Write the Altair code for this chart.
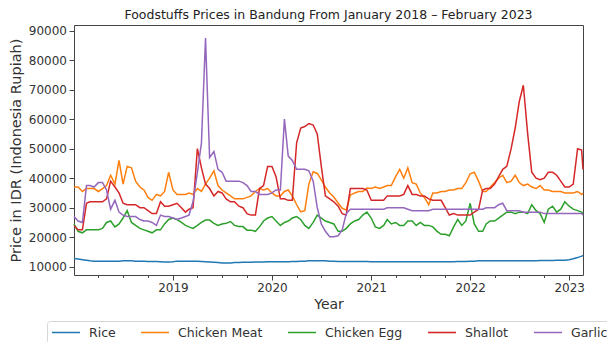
import altair as alt
import pandas as pd

FONT = "DejaVu Sans"

series_names = ["Rice", "Chicken Meat", "Chicken Egg", "Shallot", "Garlic"]
series_colors = ["#1f77b4", "#ff7f0e", "#2ca02c", "#d62728", "#9467bd"]

# Readings on the 1st and 16th of every month, January 2018 - February 2023,
# plus the final reading of the period.
dates = [
    f"{y}-{m:02d}-{d:02d}"
    for y in range(2018, 2024)
    for m in range(1, 13)
    for d in (1, 16)
    if (y, m) <= (2023, 2)
] + ["2023-02-21"]

rice = [
    12800, 12600, 12400, 12200, 12000, 11900, 11900, 11900, 11900, 11900, 11900, 11900,
    12000, 12000, 12000, 11900, 11900, 11900, 11800, 11800, 11800, 11700, 11600, 11600,
    11700, 11900, 11900, 11900, 11900, 11900, 11900, 11800, 11700, 11600, 11500, 11400,
    11300, 11300, 11300, 11400, 11400, 11500, 11500, 11500, 11600, 11600, 11600, 11700,
    11700, 11700, 11700, 11700, 11700, 11800, 11800, 11900, 11900, 12000, 12000, 12000,
    12000, 12000, 11900, 11900, 11800, 11800, 11800, 11800, 11800, 11800, 11800, 11800,
    11700, 11700, 11700, 11700, 11700, 11700, 11700, 11700, 11700, 11700, 11700, 11700,
    11700, 11700, 11700, 11700, 11700, 11700, 11700, 11700, 11700, 11800, 11800, 11800,
    11900, 11900, 12000, 12000, 12000, 12000, 12000, 12000, 12000, 12000, 12000, 12000,
    12000, 12000, 12000, 12000, 12000, 12100, 12100, 12100, 12100, 12200, 12200, 12200,
    12400, 12700, 13100, 13600, 13800,
]

chicken_meat = [
    37000, 37000, 35500, 36500, 36500, 36500, 35500, 36500, 37500, 41000, 38000, 46000,
    38000, 44000, 43500, 39000, 37000, 36000, 33500, 32500, 34500, 34000, 35500, 42000,
    36000, 34500, 34500, 34500, 35000, 34500, 36500, 35500, 38000, 40000, 42500, 37500,
    36000, 35000, 34000, 33000, 33000, 33000, 33500, 34000, 35500, 36500, 36000, 36500,
    35000, 34000, 34000, 35500, 36000, 34000, 31000, 28600, 29000, 38000, 42200, 41600,
    39400, 37000, 35000, 33600, 31600, 29800, 29200, 34300, 35000, 35500, 35500, 36700,
    36500, 37000, 36500, 37000, 37500, 37500, 40500, 43000, 40000, 43500, 38500, 38000,
    35000, 33500, 31000, 35000, 35000, 35500, 35500, 36000, 36000, 36500, 36500, 38500,
    41500, 42000, 39000, 35500, 35500, 37000, 38500, 40000, 41000, 38500, 39000, 41000,
    38500, 37500, 38000, 37000, 36500, 37500, 36000, 36000, 35500, 35500, 35500, 35000,
    35000, 35000, 35500, 34500, 35000,
]

chicken_egg = [
    24500, 22000, 21500, 22500, 22500, 22500, 22500, 23000, 25000, 25500, 23500, 24500,
    26500, 29000, 25000, 24000, 23000, 22500, 22000, 21500, 22500, 22500, 24500, 26000,
    26500, 26000, 25000, 24000, 23500, 23000, 24000, 25000, 25800, 25800, 24700, 24000,
    24500, 24700, 25300, 24000, 23600, 23600, 22400, 22400, 22000, 23500, 25500, 26500,
    27000, 25500, 24000, 25000, 25500, 26500, 27000, 26000, 24000, 23000, 25000, 27500,
    26500, 25500, 25000, 24500, 22000, 22000, 23000, 24500, 25500, 26000, 27500, 28500,
    26500, 23500, 23000, 24000, 26000, 24500, 25000, 24000, 24000, 25500, 25500, 24000,
    25000, 24000, 24000, 23500, 22000, 21000, 21000, 20500, 23500, 26000, 24000, 25500,
    31500, 24500, 22000, 22000, 24500, 25500, 25500, 26500, 27500, 28500, 28500, 28000,
    28500, 28500, 28000, 31000, 29000, 28000, 25000, 29500, 30500, 28500, 29500, 32000,
    30500, 29500, 29000, 28500, 28000,
]

shallot = [
    24000, 22500, 22500, 31500, 32000, 32000, 32000, 32000, 33000, 39000, 37000, 35000,
    31500, 31000, 31000, 31000, 30000, 30000, 29000, 28000, 28000, 32000, 30500, 30500,
    31000, 31500, 30000, 28500, 29500, 30000, 50000, 43500, 38000, 36500, 34000, 35500,
    35000, 33000, 32000, 32000, 30500, 30000, 28000, 27500, 27500, 36500, 37500, 44000,
    44000, 40500, 33000, 33000, 32500, 32500, 52000, 57000, 57500, 58500, 58000, 55000,
    44000, 34000, 33000, 32000, 30500, 28000, 27500, 36500, 36500, 36500, 36500, 36000,
    32500, 32500, 32500, 32500, 34000, 34000, 34000, 34000, 34500, 37500, 34500, 34500,
    34000, 34000, 33000, 32500, 32500, 32500, 30000, 27500, 28000, 27500, 27500, 27500,
    27500, 28500, 29500, 36000, 36500, 36500, 38000, 40500, 43000, 44000, 50000, 57000,
    66000, 71500, 55000, 42000, 40000, 39500, 40000, 42000, 42000, 41000, 39000, 37000,
    37000, 38000, 50000, 49500, 43000,
]

garlic = [
    27000, 25500, 25000, 37500, 37500, 37000, 38500, 38500, 36000, 29500, 32500, 28500,
    27500, 27000, 27000, 27000, 26000, 25500, 25500, 25000, 24000, 27500, 27000, 27000,
    26500, 26000, 26500, 27000, 27500, 32000, 42000, 52000, 87500, 47000, 49000, 43000,
    42000, 39000, 39000, 39000, 39000, 38500, 37500, 35500, 35500, 34500, 34500, 34500,
    35000, 36000, 36000, 60000, 47500, 46000, 43000, 43000, 43000, 42500, 39000, 30000,
    24500, 22000, 20200, 20200, 20500, 22500, 28000, 29500, 29500, 29500, 29500, 29500,
    29500, 29500, 29500, 29500, 30000, 30000, 30000, 30000, 30000, 29500, 29000, 29000,
    29000, 29000, 29000, 29500, 29500, 29500, 29500, 29500, 29500, 29500, 29500, 29500,
    29500, 29500, 29500, 29500, 30000, 30000, 30000, 31000, 31500, 29000, 29000, 29000,
    29000, 28500, 28500, 28500, 28500, 28500, 28000, 28000, 28000, 28000, 28000, 28000,
    28000, 28000, 28000, 28000, 27500,
]

y_ticks = list(range(10000, 90001, 10000))
x_ticks = [(y, m) for y in range(2018, 2024) for m in (1, 4, 7, 10) if (2018, 1) < (y, m) <= (2023, 1)]

values_by_series = [rice, chicken_meat, chicken_egg, shallot, garlic]
for vals in values_by_series:
    assert len(vals) == len(dates)

rows = []
for name, vals in zip(series_names, values_by_series):
    for d, v in zip(dates, vals):
        rows.append({"date": d, "series": name, "price": v})
df = pd.DataFrame(rows)

x_axis = alt.Axis(
    title="Year",
    values=[alt.DateTime(year=y, month=m, date=1, utc=True) for y, m in x_ticks],
    labelExpr="utcmonth(datum.value) == 0 ? utcFormat(datum.value, '%Y') : ''",
    tickSize={"condition": {"test": "utcmonth(datum.value) == 0", "value": 5}, "value": 2.5},
    labelPadding=2,
    labelFontSize=12,
    titleFontSize=14,
    titlePadding=4,
    labelFlush=False,
    labelOverlap=False,
)

y_axis = alt.Axis(
    title="Price in IDR (Indonesia Rupiah)",
    values=y_ticks,
    format="d",
    tickSize=5,
    labelPadding=2.5,
    labelFontSize=12,
    titleFontSize=14.5,
    titlePadding=5,
)

legend = alt.Legend(
    title=None,
    orient="none",
    legendX=-27,
    legendY=296,
    direction="horizontal",
    columns=5,
    symbolType="stroke",
    symbolSize=784,
    symbolStrokeWidth=1.6,
    clipHeight=15,
    labelFontSize=12.5,
    labelColor="#333333",
    labelFont=FONT,
    labelOffset=8,
    labelLimit=300,
    columnPadding=24,
    padding=4,
    strokeColor="#d6d6d6",
    fillColor="white",
    cornerRadius=3,
)

chart = (
    alt.Chart(df)
    .mark_line(strokeWidth=1.5)
    .encode(
        x=alt.X(
            "date:T",
            scale=alt.Scale(
                type="utc",
                domain=[
                    alt.DateTime(year=2018, month=1, date=1, utc=True),
                    alt.DateTime(year=2023, month=2, date=21, utc=True),
                ],
            ),
            axis=x_axis,
        ),
        y=alt.Y(
            "price:Q",
            scale=alt.Scale(domain=[7200, 91900], nice=False, zero=False),
            axis=y_axis,
        ),
        color=alt.Color(
            "series:N",
            scale=alt.Scale(domain=series_names, range=series_colors),
            sort=series_names,
            legend=legend,
        ),
    )
    .properties(
        width=509,
        height=250,
        title=alt.TitleParams(
            "Foodstuffs Prices in Bandung From January 2018 \u2013 February 2023",
            fontSize=12.5,
            fontWeight="normal",
            font=FONT,
            color="#222222",
            anchor="middle",
            offset=3,
        ),
        autosize=alt.AutoSizeParams(type="none"),
        padding={"left": 74, "top": 25, "right": 24, "bottom": 67},
        background="white",
    )
    .configure_view(stroke="#444444", strokeWidth=1)
    .configure_axis(
        domain=False,
        grid=False,
        tickColor="#444444",
        labelColor="#333333",
        titleColor="#333333",
        labelFont=FONT,
        titleFont=FONT,
        titleFontWeight="normal",
    )
)

chart.save("out.html", embed_options={"renderer": "svg", "actions": False})
